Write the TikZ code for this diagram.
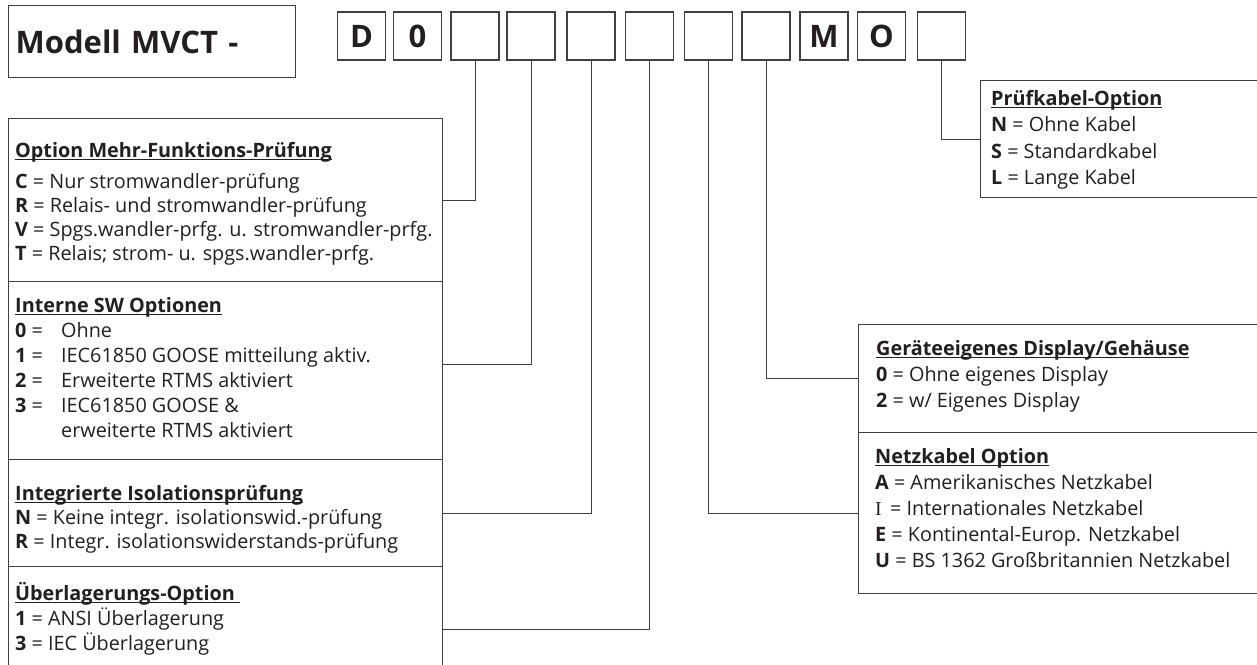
\documentclass[tikz,border=0pt]{standalone}
\usepackage{fontspec}
\setmainfont{Open Sans}
\newfontfamily\serifI{Liberation Serif}
\usepackage{tikz}
\usetikzlibrary{positioning}
\definecolor{LineGray}{RGB}{64,64,64}
\definecolor{InkBlack}{RGB}{35,31,32}
\newcommand{\optheading}[1]{\setbox0\hbox{\bfseries #1}\rlap{\rule[-3.2pt]{\wd0}{1.3pt}}\box0}
\tikzset{
  titlebox/.style={draw=LineGray,line width=1.3pt,minimum width=287pt,minimum height=72pt,anchor=north west,inner xsep=7pt,text width=273pt,align=left,text=InkBlack,font=\fontsize{31}{31}\selectfont\bfseries},
  codebox/.style={draw=LineGray,line width=1.3pt,minimum width=48pt,minimum height=48pt,inner sep=0pt,text=InkBlack,font=\fontsize{31}{31}\selectfont\bfseries},
  optbox/.style={draw=LineGray,line width=1.3pt,anchor=north west,inner sep=0pt},
  optext/.style={anchor=north west,align=left,inner sep=0pt,text=InkBlack,font=\fontsize{19.8}{#1}\selectfont},
  link/.style={draw=LineGray,line width=1pt}
}

\begin{document}
\begin{tikzpicture}[x=1pt,y=-1pt]
\path[use as bounding box,fill=white] (0,0) rectangle (1257,664);

\node[titlebox] (titel) at (8,5) {Modell MVCT -};

\foreach \cx/\lbl [count=\i] in {361.5/D,417.5/0,475/{},531/{},591/{},649.5/{},708.5/{},766/{},824/M,881.5/O,941.5/{}}
  \node[codebox] (c\i) at (\cx,36) {\lbl};

\node[optbox,minimum width=434pt,minimum height=163pt] (mehr) at (8,118) {};
\node[optbox,minimum width=434pt,minimum height=178pt] (sw) at (8,281) {};
\node[optbox,minimum width=434pt,minimum height=107pt] (iso) at (8,459) {};
\node[optbox,minimum width=434pt,minimum height=102pt] (ueber) at (8,566) {};

\node[optbox,minimum width=282pt,minimum height=117pt] (pruef) at (980,80) {};
\node[optbox,minimum width=404pt,minimum height=108pt] (display) at (858,324) {};
\node[optbox,minimum width=404pt,minimum height=161pt] (netz) at (858,432) {};

\node[optext=24pt] (mehrtext) at (15,137) {\rule{0pt}{20pt}\optheading{Option Mehr-Funktions-Prüfung}\\[7pt]
  \textbf{C} = Nur stromwandler-prüfung\\
  \textbf{R} = Relais- und stromwandler-prüfung\\
  \textbf{V} = Spgs.wandler-prfg. u. stromwandler-prfg.\\
  \textbf{T} = Relais; strom- u. spgs.wandler-prfg.};

\node[optext=25pt] (swtext) at (15,292) {\rule{0pt}{20pt}\optheading{Interne SW Optionen}\\
  \makebox[46pt][l]{\textbf{0} =}Ohne\\
  \makebox[46pt][l]{\textbf{1} =}IEC61850 GOOSE mitteilung aktiv.\\
  \makebox[46pt][l]{\textbf{2} =}Erweiterte RTMS aktiviert\\
  \makebox[46pt][l]{\textbf{3} =}IEC61850 GOOSE \&\\
  \hspace*{46pt}erweiterte RTMS aktiviert};

\node[optext=24pt] (isotext) at (15,480) {\rule{0pt}{20pt}\optheading{Integrierte Isolationsprüfung}\\
  \textbf{N} = Keine integr. isolationswid.-prüfung\\
  \textbf{R} = Integr. isolationswiderstands-prüfung};

\node[optext=25pt] (uebertext) at (15,580) {\rule{0pt}{20pt}\optheading{Überlagerungs-Option\ }\\
  \textbf{1} = ANSI Überlagerung\\
  \textbf{3} = IEC Überlagerung};

\node[optext=26.5pt] (prueftext) at (991,85) {\rule{0pt}{20pt}\optheading{Prüfkabel-Option}\\
  \textbf{N} = Ohne Kabel\\
  \textbf{S} = Standardkabel\\
  \textbf{L} = Lange Kabel};

\node[optext=26pt] (displaytext) at (876,335) {\rule{0pt}{20pt}\optheading{Geräteeigenes Display/Gehäuse}\\
  \textbf{0} = Ohne eigenes Display\\
  \textbf{2} = w/ Eigenes Display};

\node[optext=26pt] (netztext) at (875,443) {\rule{0pt}{20pt}\optheading{Netzkabel Option}\\
  \textbf{A} = Amerikanisches Netzkabel\\
  \makebox[15pt][l]{\serifI I}= Internationales Netzkabel\\
  \textbf{E} = Kontinental-Europ. Netzkabel\\
  \textbf{U} = BS 1362 Großbritannien Netzkabel};

\draw[link] (c3.south) |- (mehr.east);
\draw[link] (c4.south) |- ([yshift=6pt]sw.east);
\draw[link] (c5.south) |- (iso.east);
\draw[link] (c6.south) |- ([yshift=-12pt]ueber.east);
\draw[link] (c7.south) |- (netz.west);
\draw[link] (c8.south) |- (display.west);
\draw[link] (c11.south) |- (pruef.west);
\end{tikzpicture}
\end{document}
